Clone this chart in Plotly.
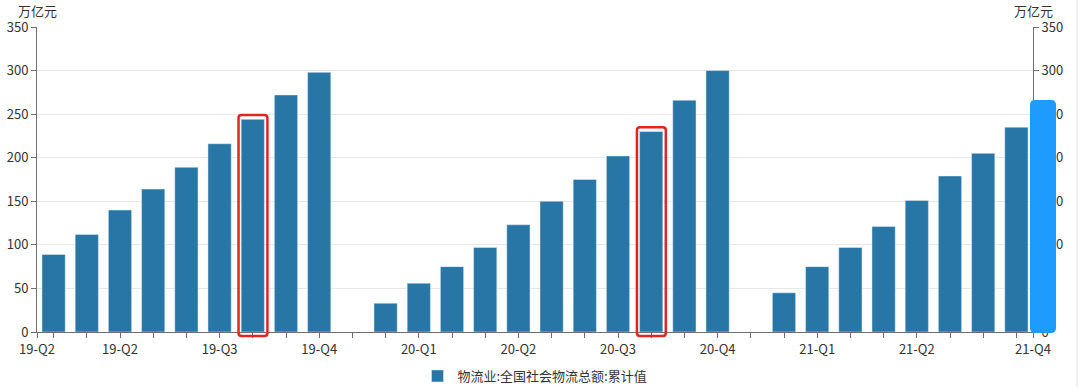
import plotly.graph_objects as go

# ---- data ----
categories = (
    ["19-%d" % i for i in range(1, 10)] + ["gap1"] +
    ["20-%d" % i for i in range(1, 12)] + ["gap2"] +
    ["21-%d" % i for i in range(1, 9)]
)
values = [89, 112, 140, 164, 189, 216, 244, 272, 298,
          None,
          33, 56, 75, 97, 123, 150, 175, 202, 230, 266, 300,
          None,
          45, 75, 97, 121, 151, 179, 205, 235]
tick_positions = [-0.5, 2, 5, 8, 11, 14, 17, 20, 23, 26, 29.5]
tick_labels = ["19-Q2", "19-Q2", "19-Q3", "19-Q4", "20-Q1", "20-Q2",
               "20-Q3", "20-Q4", "21-Q1", "21-Q2", "21-Q4"]
highlight_idx = [6, 18]
series_name = "物流业:全国社会物流总额:累计值"
unit = "万亿元"
y_ticks = [0, 50, 100, 150, 200, 250, 300, 350]

BAR = "#2776a6"
FONT = "Noto Sans CJK SC"
n = len(categories)
xs = list(range(n))

FIG_W, FIG_H = 1080, 387
ML, MR, MT, MB = 37, 47, 27, 55
W_PX, H_PX = float(FIG_W - ML - MR), float(FIG_H - MT - MB)

fig = go.Figure()
fig.add_trace(go.Bar(x=xs, y=values, name=series_name, marker_color=BAR,
                     width=0.7, showlegend=True))
fig.add_trace(go.Scatter(x=[0], y=[0], yaxis="y2", mode="markers",
                         marker=dict(opacity=0), showlegend=False, hoverinfo="skip"))

all_ticks = sorted(set(tick_positions + xs))
all_text = [tick_labels[tick_positions.index(t)] if t in tick_positions else "" for t in all_ticks]

axis_common = dict(showline=True, linecolor="#6e6e6e", linewidth=1,
                   ticks="outside", ticklen=5, tickcolor="#6e6e6e", automargin=False,
                   tickfont=dict(family=FONT, size=13, color="#333"))

fig.update_layout(
    width=FIG_W, height=FIG_H,
    margin=dict(l=ML, r=MR, t=MT, b=MB, autoexpand=False),
    paper_bgcolor="white", plot_bgcolor="white",
    font=dict(family=FONT),
    bargap=0.3,
    xaxis=dict(range=[-0.5, n - 0.5], tickmode="array", tickvals=all_ticks,
               ticktext=all_text, showgrid=False, zeroline=False, **axis_common),
    yaxis=dict(range=[0, 350], tickvals=y_ticks, showgrid=True, gridcolor="#e8e8e8",
               zeroline=False, **axis_common),
    yaxis2=dict(range=[0, 350], tickvals=y_ticks, overlaying="y", side="right",
                showgrid=False, zeroline=False, **axis_common),
    legend=dict(orientation="h", x=0.5, xanchor="center",
                y=-(376 - 332) / H_PX, yanchor="middle",
                font=dict(family=FONT, size=13, color="#333"), itemwidth=30),
)

for xp in (0, 1):
    fig.add_annotation(x=xp, y=1 + (27 - 11) / H_PX, xref="paper", yref="paper",
                       text=unit, showarrow=False, xanchor="center", yanchor="middle",
                       font=dict(family=FONT, size=13, color="#333"))

# highlight boxes (paper coords derived from the category index / value)
for i in highlight_idx:
    x0 = (i + 0.5 - 0.43) / n
    x1 = (i + 0.5 + 0.44) / n
    y0 = -4.5 / 350
    y1 = (values[i] + 5) / 350
    rx, ry = 3 / W_PX, 3 / H_PX
    path = (f"M {x0+rx} {y0} L {x1-rx} {y0} Q {x1} {y0} {x1} {y0+ry} "
            f"L {x1} {y1-ry} Q {x1} {y1} {x1-rx} {y1} L {x0+rx} {y1} "
            f"Q {x0} {y1} {x0} {y1-ry} L {x0} {y0+ry} Q {x0} {y0} {x0+rx} {y0} Z")
    fig.add_shape(type="path", path=path, xref="paper", yref="paper",
                  line=dict(color="#e0261f", width=2.5), layer="above")

# floating blue tab on the right edge
bx0, bx1 = (1030 - ML) / W_PX, (1056 - ML) / W_PX
by0, by1 = -1 / H_PX, 232 / H_PX
rx, ry = 5 / W_PX, 5 / H_PX
bpath = (f"M {bx0+rx} {by0} L {bx1-rx} {by0} Q {bx1} {by0} {bx1} {by0+ry} "
         f"L {bx1} {by1-ry} Q {bx1} {by1} {bx1-rx} {by1} L {bx0+rx} {by1} "
         f"Q {bx0} {by1} {bx0} {by1-ry} L {bx0} {by0+ry} Q {bx0} {by0} {bx0+rx} {by0} Z")
fig.add_shape(type="path", path=bpath, xref="paper", yref="paper",
              fillcolor="#1e9bff", line=dict(width=0), layer="above")

# faint frame line at right edge
fig.add_shape(type="line", x0=(1077 - ML) / W_PX, x1=(1077 - ML) / W_PX,
              y0=-MB / H_PX, y1=1 + MT / H_PX, xref="paper", yref="paper",
              line=dict(color="#dddddd", width=1))

fig.write_html("out.html", config={"displayModeBar": False},
               post_script="document.body.style.margin='0';document.body.style.overflow='hidden';")
